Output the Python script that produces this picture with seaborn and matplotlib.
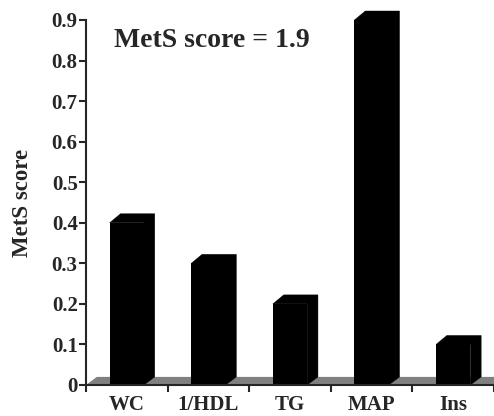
import matplotlib
matplotlib.use("Agg")
import matplotlib.pyplot as plt
from matplotlib.patches import Polygon
import seaborn as sns

# values
categories = ["WC", "1/HDL", "TG", "MAP", "Ins"]
scores = [0.4, 0.3, 0.2, 0.9, 0.1]
y_ticks = [0, 0.1, 0.2, 0.3, 0.4, 0.5, 0.6, 0.7, 0.8, 0.9]
y_ticklabels = ["0", "0.1", "0.2", "0.3", "0.4", "0.5", "0.6", "0.7", "0.8", "0.9"]
total_label = "MetS score = 1.9"

sns.set_style("ticks")
plt.rcParams["font.family"] = ["Liberation Serif", "DejaVu Serif"]
plt.rcParams["font.weight"] = "bold"

fig = plt.figure(figsize=(4.94, 4.16), dpi=100)
ax = fig.add_axes([86 / 494, 31 / 416, 408 / 494, 365 / 416])

sns.barplot(x=categories, y=scores, color="black", saturation=1,
            width=0.42, edgecolor="none", linewidth=0, ax=ax, zorder=3)

ax.set_xlim(-0.5, 4.42)
ax.set_ylim(0, 0.9)

# 3d look: depth offsets in data units (pixels -> data)
dx = 11 / 83
dy = 9 / 405.6

# grey floor
floor = Polygon([(-0.5, 0), (-0.5 + dx, dy * 0.9), (6, dy * 0.9), (6, 0)],
                closed=True, facecolor="#808080", edgecolor="none", zorder=2)
ax.add_patch(floor)

for bar in ax.patches[:len(scores)]:
    x0 = bar.get_x()
    x1 = x0 + bar.get_width()
    h = bar.get_height()
    if h <= 0:
        continue
    depth = Polygon([(x0, h), (x0 + dx, h + dy), (x1 + dx, h + dy),
                     (x1 + dx, dy * 0.9), (x1, 0), (x1, h)],
                    closed=True, facecolor="black", edgecolor="black",
                    linewidth=0.3, zorder=3, clip_on=False)
    ax.add_patch(depth)

sns.despine(ax=ax)
ax.spines["left"].set_linewidth(1.5)
ax.spines["bottom"].set_linewidth(1.5)
ax.spines["bottom"].set_zorder(4)

ax.set_yticks(y_ticks)
ax.set_yticklabels(y_ticklabels, fontsize=15, fontweight="bold")
ax.tick_params(axis="y", length=5, width=1.5, pad=1)

ax.set_xticks(range(len(categories)))
ax.set_xticklabels(categories, fontsize=15, fontweight="bold")
ax.set_xticks([i - 0.5 for i in range(len(categories) + 1)], minor=True)
ax.tick_params(axis="x", which="major", length=0, pad=7)
ax.tick_params(axis="x", which="minor", length=5, width=1.5)

ax.set_xlabel("")
ax.set_ylabel("MetS score", fontsize=16.5, fontweight="bold")
ax.yaxis.set_label_coords(-0.13, 0.5)

fig.text(114 / 494, 1 - 47 / 416, total_label, fontsize=20,
         fontweight="bold", ha="left", va="baseline")

fig.savefig("out.png", dpi=100)
